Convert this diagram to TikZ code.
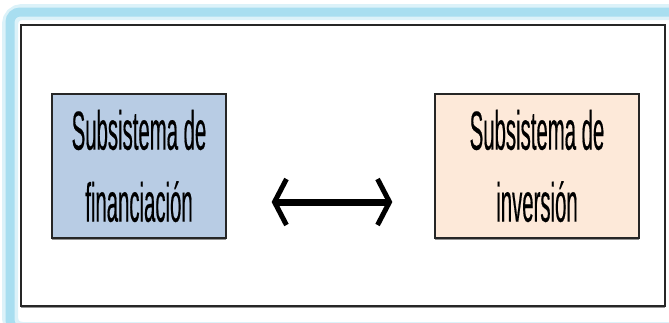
\documentclass[tikz,border=0pt]{standalone}
\usepackage{fontspec}
\setmainfont{Liberation Sans}[FakeStretch=0.37,FakeBold=0.3]
\usepackage{tikz}
\usetikzlibrary{arrows.meta}
\usetikzlibrary{shadows}

\definecolor{celeste}{RGB}{168,222,240}
\definecolor{azulcaja}{RGB}{184,204,228}
\definecolor{salmon}{RGB}{253,233,217}

\tikzset{
  caja/.style={draw=black!85,line width=1.3pt,minimum height=144pt,align=center,
    font=\fontsize{55}{72}\selectfont,inner sep=0pt,
    drop shadow={shadow xshift=0pt,shadow yshift=-2pt,opacity=.6,fill=black!70}},
  flecha/.style={line width=7pt,{Straight Barb[length=12pt,width=46pt,line width=5pt]}-{Straight Barb[length=12pt,width=46pt,line width=5pt]}}
}

\begin{document}
\begin{tikzpicture}[x=1pt,y=-1pt]
  \useasboundingbox (0,0) rectangle (669,322);
  \clip (0,0) rectangle (669,322);
  % marco celeste
  \draw[celeste!40,line width=16pt,rounded corners=12pt] (10,12) rectangle (690,330);
  \draw[celeste,line width=9pt,rounded corners=10pt] (10,12) rectangle (690,330);
  % marco negro
  \draw[black!85,line width=1.5pt,fill=white,
    drop shadow={shadow xshift=0pt,shadow yshift=-2pt,opacity=.6,fill=black!70}]
    (21,25) rectangle (665,306);
  \node[caja,fill=azulcaja,minimum width=174pt] (finan) at (139,166)
    {Subsistema de\\financiación};
  \node[caja,fill=salmon,minimum width=204pt] (inver) at (537,166)
    {Subsistema de\\inversión};
  \draw[flecha,shorten <=45pt,shorten >=42pt]
    ([yshift=-36pt]finan.east) -- ([yshift=-36pt]inver.west);
\end{tikzpicture}
\end{document}
